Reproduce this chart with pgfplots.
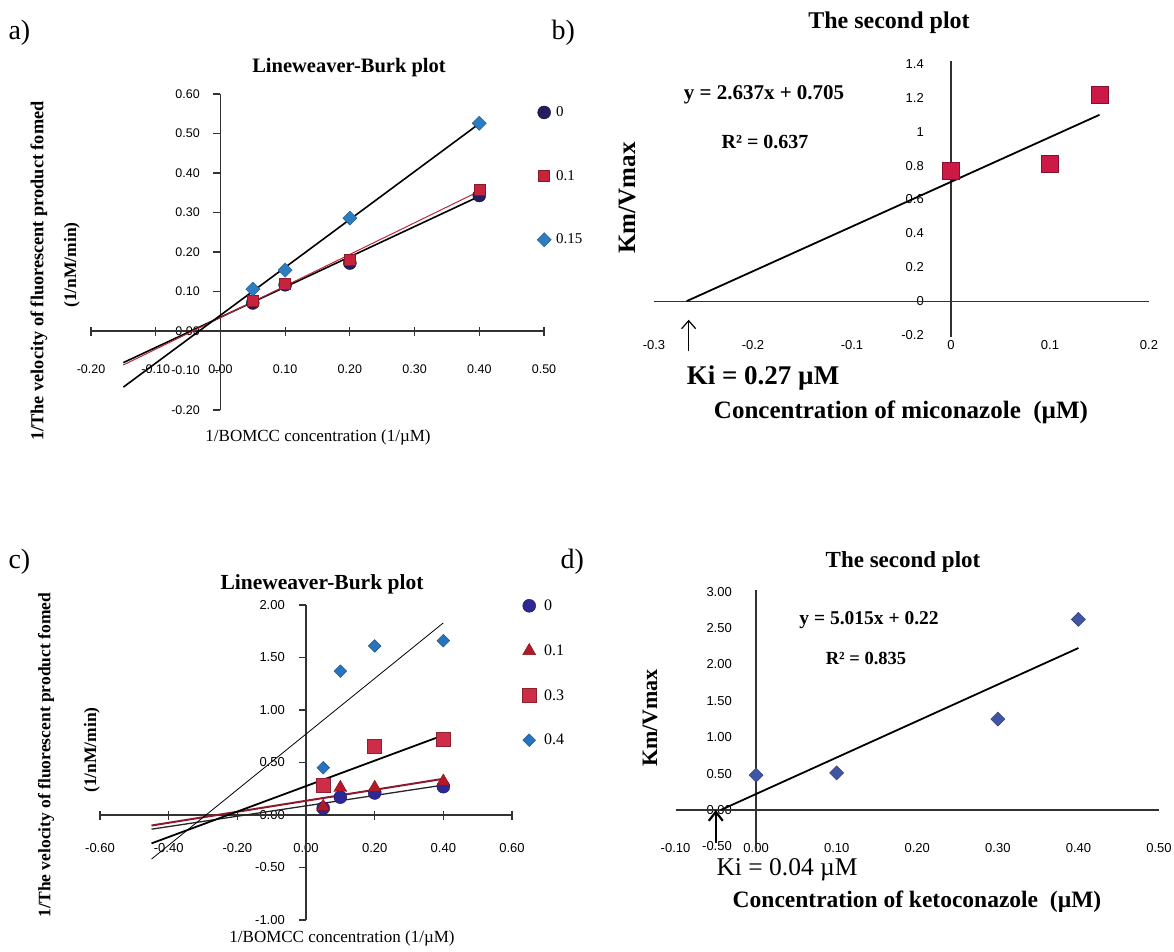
\documentclass[border=0pt]{standalone}
\usepackage{pgfplots}
\pgfplotsset{compat=1.18}
\usepackage{fontspec}
\setmainfont{Liberation Serif}
\newfontfamily\ticksf{Liberation Sans}
\usetikzlibrary{arrows.meta}

\definecolor{navyA}{RGB}{35,30,95}
\definecolor{redA}{RGB}{200,35,60}
\definecolor{blueA}{RGB}{45,125,195}
\definecolor{navyC}{RGB}{45,40,150}
\definecolor{redT}{RGB}{180,25,40}
\definecolor{redS}{RGB}{205,45,70}
\definecolor{blueC}{RGB}{40,115,190}
\definecolor{crim}{RGB}{205,25,70}
\definecolor{purD}{RGB}{65,85,165}
\definecolor{redL}{RGB}{185,40,60}
\definecolor{redLC}{RGB}{140,25,45}
\definecolor{axc}{RGB}{50,50,50}

\newcommand{\fs}[1]{\fontsize{#1}{#1}\selectfont}

\tikzset{axl/.style={axc, line width=1.2pt}}
\pgfplotsset{
  panel/.style={
    scale only axis, clip=false, anchor=south west,
    axis line style={draw=none},
    major tick length=0pt, tick style={draw=none},
    xticklabel style={anchor=center, inner sep=0pt},
    yticklabel style={anchor=east, inner sep=0pt},
    legend image code/.code={\draw[##1] plot coordinates {(0pt,0pt)};},
    legend cell align=left,
  },
}

\begin{document}
\begin{tikzpicture}
\path[use as bounding box] (0pt,0pt) rectangle (1174pt,-951pt);

% ---------------- panel a ----------------
\begin{axis}[panel, at={(91pt,-410pt)}, width=453pt, height=316pt,
  xmin=-0.2, xmax=0.5, ymin=-0.2, ymax=0.6,
  xtick={-0.2,-0.1,0,0.1,0.2,0.3,0.4,0.5},
  xticklabels={-0.20,-0.10,0.00,0.10,0.20,0.30,0.40,0.50},
  ytick={-0.2,-0.1,0,0.1,0.2,0.3,0.4,0.5,0.6},
  yticklabels={-0.20,-0.10,0.00,0.10,0.20,0.30,0.40,0.50,0.60},
  tick label style={font=\ticksf\fs{12.5}},
  xticklabel style={yshift=41pt},
  yticklabel style={xshift=109pt},
  legend style={draw=none, fill=none, inner sep=0pt, at={(0.9843,0.9636)}, anchor=north west,
    font=\fs{15}, row sep=50pt, column sep=3.9pt, nodes={inner sep=1pt}},
]
\draw[axl] (axis cs:-0.2,0) -- (axis cs:0.5,0);
\draw[axl] (axis cs:0,-0.2) -- (axis cs:0,0.6);
\pgfplotsinvokeforeach{-0.2,-0.1,0.1,0.2,0.3,0.4,0.5}{\draw[axl] (axis cs:#1,0) ++(0pt,-4.5pt) -- ++(0pt,9pt);}
\pgfplotsinvokeforeach{-0.2,-0.1,0,0.1,0.2,0.3,0.4,0.5,0.6}{\draw[axl] (axis cs:0,#1) -- ++(-7pt,0pt);}
\addplot[only marks, mark=*, mark size=6.5pt, mark options={fill=navyA, draw=navyA!60!black}]
  coordinates {(0.05,0.071) (0.1,0.117) (0.2,0.172) (0.4,0.343)};
\addlegendentry{0}
\addplot[only marks, mark=square*, mark size=5.5pt, mark options={fill=redA, draw=redA!70!black}]
  coordinates {(0.05,0.077) (0.1,0.121) (0.2,0.180) (0.4,0.358)};
\addlegendentry{0.1}
\addplot[only marks, mark=square*, mark size=5pt, mark options={rotate=45, fill=blueA, draw=blueA!70!black}]
  coordinates {(0.05,0.106) (0.1,0.154) (0.2,0.286) (0.4,0.526)};
\addlegendentry{0.15}
\addplot[forget plot, black, line width=1.6pt] coordinates {(-0.15,-0.080) (0.4,0.341)};
\addplot[forget plot, redL, line width=1pt] coordinates {(-0.15,-0.086) (0.4,0.354)};
\addplot[forget plot, black, line width=1.6pt] coordinates {(-0.15,-0.142) (0.4,0.525)};
\end{axis}

% ---------------- panel b ----------------
\begin{axis}[panel, at={(654pt,-335pt)}, width=495pt, height=271pt,
  xmin=-0.3, xmax=0.2, ymin=-0.2, ymax=1.4,
  xtick={-0.3,-0.2,-0.1,0,0.1,0.2},
  xticklabels={-0.3,-0.2,-0.1,0,0.1,0.2},
  ytick={-0.2,0,0.2,0.4,0.6,0.8,1,1.2,1.4},
  yticklabels={-0.2,0,0.2,0.4,0.6,0.8,1,1.2,1.4},
  tick label style={font=\ticksf\fs{13}},
  xticklabel style={yshift=-10pt},
  yticklabel style={xshift=270pt},
]
\draw[axl] (axis cs:-0.3,0) -- (axis cs:0.2,0);
\draw[axl] (axis cs:0,-0.21) -- (axis cs:0,1.42);
\addplot[only marks, mark=square*, mark size=8.5pt, mark options={fill=crim, draw=crim!65!black}]
  coordinates {(0,0.77) (0.1,0.81) (0.15,1.22)};
\addplot[black, line width=1.8pt] coordinates {(-0.267,0) (0.15,1.1)};
\draw[black, line width=1.2pt, -{Straight Barb[length=8pt,width=14pt]}] (axis cs:-0.265,-0.295) -- (axis cs:-0.265,-0.11);
\end{axis}

% ---------------- panel c ----------------
\begin{axis}[panel, at={(100pt,-920pt)}, width=412pt, height=315pt,
  xmin=-0.6, xmax=0.6, ymin=-1, ymax=2,
  xtick={-0.6,-0.4,-0.2,0,0.2,0.4,0.6},
  xticklabels={-0.60,-0.40,-0.20,0.00,0.20,0.40,0.60},
  ytick={-1,-0.5,0,0.5,1,1.5,2},
  yticklabels={-1.00,-0.50,0.00,0.50,1.00,1.50,2.00},
  tick label style={font=\ticksf\fs{13}},
  xticklabel style={yshift=72pt},
  yticklabel style={xshift=185pt},
  legend style={draw=none, fill=none, inner sep=0pt, at={(1.0243,1.0206)}, anchor=north west,
    font=\fs{16}, row sep=30.5pt, column sep=7pt, nodes={inner sep=1pt}},
]
\draw[axl] (axis cs:-0.6,0) -- (axis cs:0.6,0);
\draw[axl] (axis cs:0,-1) -- (axis cs:0,2);
\pgfplotsinvokeforeach{-0.6,-0.4,-0.2,0.2,0.4,0.6}{\draw[axl] (axis cs:#1,0) ++(0pt,-4.5pt) -- ++(0pt,9pt);}
\pgfplotsinvokeforeach{-1,-0.5,0,0.5,1,1.5,2}{\draw[axl] (axis cs:0,#1) -- ++(-7pt,0pt);}
\addplot[only marks, mark=*, mark size=6.5pt, mark options={fill=navyC, draw=navyC!60!black}]
  coordinates {(0.05,0.065) (0.1,0.17) (0.2,0.21) (0.4,0.27)};
\addlegendentry{0}
\addplot[only marks, mark=triangle*, mark size=7.5pt, mark options={fill=redT, draw=redT!70!black}]
  coordinates {(0.05,0.08) (0.1,0.26) (0.2,0.26) (0.4,0.32)};
\addlegendentry{0.1}
\addplot[only marks, mark=square*, mark size=7pt, mark options={fill=redS, draw=redS!70!black}]
  coordinates {(0.05,0.285) (0.2,0.66) (0.4,0.72)};
\addlegendentry{0.3}
\addplot[only marks, mark=square*, mark size=4.5pt, mark options={rotate=45, fill=blueC, draw=blueC!70!black}]
  coordinates {(0.05,0.45) (0.1,1.37) (0.2,1.61) (0.4,1.66)};
\addlegendentry{0.4}
\addplot[forget plot, black!85, line width=1.3pt] coordinates {(-0.45,-0.135) (0.4,0.285)};
\addplot[forget plot, redLC, line width=2pt] coordinates {(-0.45,-0.10) (0.4,0.345)};
\addplot[forget plot, black, line width=1.8pt] coordinates {(-0.45,-0.27) (0.4,0.76)};
\addplot[forget plot, black, line width=0.8pt] coordinates {(-0.45,-0.42) (0.4,1.83)};
\end{axis}

% ---------------- panel d ----------------
\begin{axis}[panel, at={(675.5pt,-846.4pt)}, width=483.5pt, height=254.7pt,
  xmin=-0.1, xmax=0.5, ymin=-0.5, ymax=3,
  xtick={-0.1,0,0.1,0.2,0.3,0.4,0.5},
  xticklabels={-0.10,0.00,0.10,0.20,0.30,0.40,0.50},
  ytick={-0.5,0,0.5,1,1.5,2,2.5,3},
  yticklabels={-0.50,0.00,0.50,1.00,1.50,2.00,2.50,3.00},
  tick label style={font=\ticksf\fs{13}},
  xticklabel style={yshift=-1.6pt},
  yticklabel style={xshift=56.5pt},
]
\draw[axl] (axis cs:-0.1,0) -- (axis cs:0.5,0);
\draw[axl] (axis cs:0,-0.55) -- (axis cs:0,3.02);
\addplot[only marks, mark=square*, mark size=5pt, mark options={rotate=45, fill=purD, draw=purD!70!black}]
  coordinates {(0,0.48) (0.1,0.51) (0.3,1.25) (0.4,2.62)};
\addplot[black, line width=1.8pt] coordinates {(-0.044,0) (0.4,2.226)};
\draw[black, line width=1.8pt, -{Straight Barb[length=9pt,width=14pt,line width=2.2pt]}] (axis cs:-0.05,-0.45) -- (axis cs:-0.05,0.0);
\end{axis}

% ---------------- texts ----------------
% a
\node[anchor=west, font=\fs{28}] at (5pt,-33pt) {a)};
\node[font=\bfseries\fs{20.5}] at (349pt,-68pt) {Lineweaver-Burk plot};
\node[font=\bfseries\fs{18.3}, rotate=90] at (39pt,-271pt) {1/The velocity of fluorescent product fomed};
\node[font=\bfseries\fs{17.5}, rotate=90] at (72pt,-265pt) {(1/nM/min)};
\node[font=\fs{17}] at (318pt,-437pt) {1/BOMCC concentration (1/µM)};
% b
\node[anchor=west, font=\fs{28}] at (548pt,-33pt) {b)};
\node[font=\bfseries\fs{24}] at (889pt,-23pt) {The second plot};
\node[font=\bfseries\fs{21}] at (764pt,-95pt) {y = 2.637x + 0.705};
\node[font=\bfseries\fs{20}] at (765pt,-142pt) {R² = 0.637};
\node[font=\bfseries\fs{25}, rotate=90] at (627pt,-198pt) {Km/Vmax};
\node[font=\bfseries\fs{27}] at (763pt,-378pt) {Ki = 0.27 µM};
\node[font=\bfseries\fs{25}] at (901pt,-412pt) {Concentration of miconazole\ \ (µM)};
% c
\node[anchor=west, font=\fs{28}] at (5pt,-562pt) {c)};
\node[font=\bfseries\fs{21.5}] at (322pt,-584pt) {Lineweaver-Burk plot};
\node[font=\bfseries\fs{17.5}, rotate=90] at (46pt,-755pt) {1/The velocity of fluorescent product fomed};
\node[font=\bfseries\fs{17.5}, rotate=90] at (92pt,-750pt) {(1/nM/min)};
\node[font=\fs{17}] at (342pt,-938pt) {1/BOMCC concentration (1/µM)};
% d
\node[anchor=west, font=\fs{28}] at (557pt,-562pt) {d)};
\node[font=\bfseries\fs{23}] at (903pt,-562pt) {The second plot};
\node[font=\bfseries\fs{19.5}] at (869pt,-620pt) {y = 5.015x + 0.22};
\node[font=\bfseries\fs{18.5}] at (866pt,-658pt) {R² = 0.835};
\node[font=\bfseries\fs{22}, rotate=90] at (650pt,-718pt) {Km/Vmax};
\node[font=\fs{25.5}, inner sep=0pt] at (787pt,-870pt) {Ki = 0.04 µM};
\node[font=\bfseries\fs{23.5}] at (917pt,-902pt) {Concentration of ketoconazole\ \ (µM)};
\end{tikzpicture}
\end{document}
